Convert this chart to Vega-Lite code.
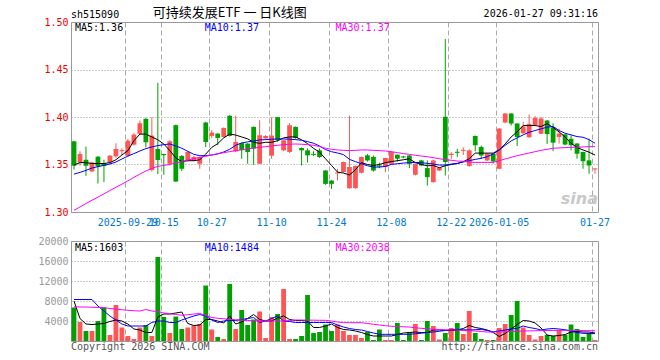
{
"$schema": "https://vega.github.io/schema/vega-lite/v6.json",
"background": "white",
"padding": {"left": 37, "top": 6, "right": 10, "bottom": 5},
"bounds": "flush",
"spacing": 29,
"config": {"view": {"stroke": "#999999", "strokeWidth": 1}, "font": "DejaVu Sans Mono",
  "axisY": {"ticks": false, "tickSize": 0, "domain": false, "grid": true, "gridColor": "#999999", "gridDash": [1,2], "gridWidth": 1, "labelFont": "DejaVu Sans Mono", "labelFontSize": 10, "labelPadding": 3}},
"datasets": {"k": [
{"d":"2025-09-16","o":1.3744,"h":1.375,"l":1.3448,"c":1.3487,"v":6700,"m5":1.3495,"m10":1.3399,"m30":1.3018,"vm5":8000,"vm10":8300,"vm30":6850},
{"d":"2025-09-17","o":1.3522,"h":1.3639,"l":1.3487,"c":1.3611,"v":3800,"m5":1.352,"m10":1.3417,"m30":1.3053,"vm5":4500,"vm10":8300,"vm30":6800},
{"d":"2025-09-18","o":1.3551,"h":1.3688,"l":1.3381,"c":1.3487,"v":2000,"m5":1.352,"m10":1.3438,"m30":1.3089,"vm5":3400,"vm10":8300,"vm30":6800},
{"d":"2025-09-19","o":1.3427,"h":1.353,"l":1.342,"c":1.3522,"v":2000,"m5":1.351,"m10":1.3463,"m30":1.3124,"vm5":3300,"vm10":8300,"vm30":6750},
{"d":"2025-09-22","o":1.3582,"h":1.359,"l":1.33,"c":1.348,"v":4000,"m5":1.351,"m10":1.3477,"m30":1.3156,"vm5":3400,"vm10":7000,"vm30":6700},
{"d":"2025-09-23","o":1.3516,"h":1.3551,"l":1.3314,"c":1.3484,"v":6700,"m5":1.351,"m10":1.3491,"m30":1.3191,"vm5":3500,"vm10":6000,"vm30":6680},
{"d":"2025-09-24","o":1.3522,"h":1.36,"l":1.35,"c":1.3593,"v":1200,"m5":1.352,"m10":1.3505,"m30":1.3226,"vm5":3900,"vm10":5000,"vm30":6500},
{"d":"2025-09-25","o":1.3586,"h":1.3723,"l":1.357,"c":1.3663,"v":7200,"m5":1.355,"m10":1.3526,"m30":1.3261,"vm5":4200,"vm10":4200,"vm30":6400},
{"d":"2025-09-26","o":1.364,"h":1.367,"l":1.36,"c":1.3651,"v":2700,"m5":1.36,"m10":1.3558,"m30":1.3293,"vm5":4000,"vm10":3400,"vm30":6250},
{"d":"2025-09-29","o":1.3593,"h":1.377,"l":1.358,"c":1.3751,"v":1000,"m5":1.3646,"m10":1.3589,"m30":1.3328,"vm5":3400,"vm10":3000,"vm30":6150},
{"d":"2025-09-30","o":1.3709,"h":1.383,"l":1.37,"c":1.3815,"v":400,"m5":1.375,"m10":1.3614,"m30":1.3364,"vm5":2400,"vm10":3000,"vm30":6050},
{"d":"2025-10-09","o":1.3822,"h":1.3963,"l":1.381,"c":1.3934,"v":2700,"m5":1.382,"m10":1.3642,"m30":1.3399,"vm5":2200,"vm10":3000,"vm30":6000},
{"d":"2025-10-10","o":1.3981,"h":1.399,"l":1.3681,"c":1.3734,"v":3200,"m5":1.382,"m10":1.3667,"m30":1.3431,"vm5":1700,"vm10":3000,"vm30":6300},
{"d":"2025-10-13","o":1.3441,"h":1.3998,"l":1.3427,"c":1.3804,"v":1000,"m5":1.379,"m10":1.3685,"m30":1.3459,"vm5":1700,"vm10":3700,"vm30":6000},
{"d":"2025-10-14","o":1.3663,"h":1.436,"l":1.3399,"c":1.3547,"v":16800,"m5":1.376,"m10":1.3699,"m30":1.348,"vm5":4800,"vm10":4000,"vm30":5900},
{"d":"2025-10-15","o":1.361,"h":1.3615,"l":1.3392,"c":1.3599,"v":4800,"m5":1.3716,"m10":1.3709,"m30":1.3491,"vm5":5400,"vm10":4000,"vm30":5600},
{"d":"2025-10-16","o":1.3508,"h":1.3755,"l":1.349,"c":1.3744,"v":1600,"m5":1.3646,"m10":1.3716,"m30":1.3501,"vm5":5400,"vm10":3700,"vm30":5450},
{"d":"2025-10-17","o":1.3914,"h":1.392,"l":1.3315,"c":1.3321,"v":4900,"m5":1.357,"m10":1.3695,"m30":1.3515,"vm5":5600,"vm10":3700,"vm30":5300},
{"d":"2025-10-20","o":1.359,"h":1.36,"l":1.343,"c":1.3455,"v":2400,"m5":1.353,"m10":1.3671,"m30":1.353,"vm5":5800,"vm10":4200,"vm30":5150},
{"d":"2025-10-21","o":1.3543,"h":1.364,"l":1.353,"c":1.3632,"v":2700,"m5":1.354,"m10":1.3639,"m30":1.3547,"vm5":3500,"vm10":4600,"vm30":5250},
{"d":"2025-10-22","o":1.3543,"h":1.359,"l":1.3535,"c":1.3579,"v":3100,"m5":1.354,"m10":1.3607,"m30":1.3561,"vm5":3100,"vm10":5000,"vm30":5400},
{"d":"2025-10-23","o":1.3508,"h":1.3585,"l":1.3455,"c":1.3579,"v":3400,"m5":1.355,"m10":1.3593,"m30":1.3575,"vm5":3200,"vm10":5300,"vm30":5500},
{"d":"2025-10-24","o":1.3942,"h":1.395,"l":1.3684,"c":1.3737,"v":11100,"m5":1.361,"m10":1.3593,"m30":1.3586,"vm5":4300,"vm10":5000,"vm30":5100},
{"d":"2025-10-27","o":1.3801,"h":1.3861,"l":1.378,"c":1.3836,"v":2300,"m5":1.368,"m10":1.36,"m30":1.36,"vm5":4300,"vm10":4200,"vm30":4700},
{"d":"2025-10-28","o":1.3825,"h":1.383,"l":1.3702,"c":1.378,"v":800,"m5":1.372,"m10":1.3611,"m30":1.3614,"vm5":4000,"vm10":3700,"vm30":4550},
{"d":"2025-10-29","o":1.379,"h":1.389,"l":1.3785,"c":1.3885,"v":400,"m5":1.378,"m10":1.3632,"m30":1.3625,"vm5":3600,"vm10":4000,"vm30":4450},
{"d":"2025-10-30","o":1.4013,"h":1.402,"l":1.3795,"c":1.3801,"v":11400,"m5":1.382,"m10":1.366,"m30":1.3635,"vm5":5000,"vm10":4100,"vm30":4350},
{"d":"2025-10-31","o":1.3638,"h":1.4013,"l":1.363,"c":1.3737,"v":2400,"m5":1.381,"m10":1.3702,"m30":1.3646,"vm5":3400,"vm10":4100,"vm30":4250},
{"d":"2025-11-03","o":1.3725,"h":1.373,"l":1.356,"c":1.365,"v":6200,"m5":1.379,"m10":1.3727,"m30":1.3656,"vm5":3800,"vm10":4300,"vm30":4200},
{"d":"2025-11-04","o":1.372,"h":1.3725,"l":1.3508,"c":1.3632,"v":3200,"m5":1.377,"m10":1.3738,"m30":1.3663,"vm5":4500,"vm10":4500,"vm30":4100},
{"d":"2025-11-05","o":1.3896,"h":1.39,"l":1.3497,"c":1.3667,"v":4300,"m5":1.3734,"m10":1.3748,"m30":1.3674,"vm5":5300,"vm10":4700,"vm30":4050},
{"d":"2025-11-06","o":1.3508,"h":1.3966,"l":1.3505,"c":1.3808,"v":5900,"m5":1.3723,"m10":1.3759,"m30":1.3681,"vm5":4300,"vm10":3700,"vm30":4000},
{"d":"2025-11-07","o":1.3775,"h":1.381,"l":1.3765,"c":1.38,"v":600,"m5":1.3734,"m10":1.3762,"m30":1.3688,"vm5":4000,"vm10":4000,"vm30":4000},
{"d":"2025-11-10","o":1.3593,"h":1.3998,"l":1.356,"c":1.3804,"v":4800,"m5":1.3734,"m10":1.3766,"m30":1.3695,"vm5":4000,"vm10":4500,"vm30":4000},
{"d":"2025-11-11","o":1.3998,"h":1.4,"l":1.374,"c":1.3759,"v":5400,"m5":1.375,"m10":1.3769,"m30":1.3702,"vm5":4600,"vm10":5000,"vm30":4000},
{"d":"2025-11-12","o":1.3649,"h":1.376,"l":1.364,"c":1.3755,"v":10400,"m5":1.378,"m10":1.3769,"m30":1.3709,"vm5":5000,"vm10":4000,"vm30":4000},
{"d":"2025-11-13","o":1.3632,"h":1.3935,"l":1.362,"c":1.3913,"v":400,"m5":1.379,"m10":1.3766,"m30":1.3713,"vm5":4300,"vm10":3900,"vm30":4100},
{"d":"2025-11-14","o":1.3896,"h":1.39,"l":1.377,"c":1.378,"v":400,"m5":1.379,"m10":1.3762,"m30":1.3716,"vm5":4100,"vm10":3700,"vm30":4200},
{"d":"2025-11-17","o":1.3674,"h":1.368,"l":1.349,"c":1.3649,"v":1000,"m5":1.376,"m10":1.3755,"m30":1.3713,"vm5":4100,"vm10":3700,"vm30":4200},
{"d":"2025-11-18","o":1.3649,"h":1.367,"l":1.352,"c":1.3596,"v":9200,"m5":1.372,"m10":1.3741,"m30":1.3709,"vm5":4000,"vm10":3700,"vm30":4180},
{"d":"2025-11-19","o":1.3612,"h":1.364,"l":1.359,"c":1.3601,"v":1600,"m5":1.367,"m10":1.3724,"m30":1.3702,"vm5":2700,"vm10":3700,"vm30":4160},
{"d":"2025-11-20","o":1.3649,"h":1.367,"l":1.357,"c":1.3579,"v":1800,"m5":1.363,"m10":1.3695,"m30":1.3688,"vm5":2700,"vm10":3700,"vm30":4140},
{"d":"2025-11-21","o":1.3437,"h":1.344,"l":1.3286,"c":1.3296,"v":3300,"m5":1.356,"m10":1.3657,"m30":1.3671,"vm5":3000,"vm10":3700,"vm30":4130},
{"d":"2025-11-24","o":1.3331,"h":1.3335,"l":1.3243,"c":1.3296,"v":2000,"m5":1.349,"m10":1.3635,"m30":1.366,"vm5":3400,"vm10":3700,"vm30":4000},
{"d":"2025-11-25","o":1.3405,"h":1.3455,"l":1.3331,"c":1.3416,"v":3300,"m5":1.342,"m10":1.3621,"m30":1.3653,"vm5":2700,"vm10":3200,"vm30":3800},
{"d":"2025-11-26","o":1.342,"h":1.353,"l":1.3415,"c":1.3526,"v":2000,"m5":1.341,"m10":1.3604,"m30":1.3649,"vm5":2300,"vm10":2800,"vm30":3667},
{"d":"2025-11-27","o":1.3251,"h":1.4013,"l":1.3245,"c":1.3473,"v":1200,"m5":1.339,"m10":1.3554,"m30":1.3646,"vm5":2200,"vm10":2500,"vm30":3667},
{"d":"2025-11-28","o":1.3251,"h":1.349,"l":1.3245,"c":1.3484,"v":1200,"m5":1.3445,"m10":1.353,"m30":1.3649,"vm5":2000,"vm10":2300,"vm30":3667},
{"d":"2025-12-01","o":1.3413,"h":1.3585,"l":1.3405,"c":1.3579,"v":600,"m5":1.352,"m10":1.3508,"m30":1.3653,"vm5":1700,"vm10":2200,"vm30":3667},
{"d":"2025-12-02","o":1.3596,"h":1.361,"l":1.353,"c":1.3543,"v":1800,"m5":1.35,"m10":1.3487,"m30":1.3653,"vm5":1300,"vm10":1900,"vm30":3500},
{"d":"2025-12-03","o":1.3579,"h":1.3595,"l":1.3425,"c":1.3437,"v":200,"m5":1.349,"m10":1.3473,"m30":1.3649,"vm5":1000,"vm10":1600,"vm30":3350},
{"d":"2025-12-04","o":1.349,"h":1.352,"l":1.346,"c":1.3479,"v":2300,"m5":1.35,"m10":1.3473,"m30":1.3646,"vm5":1000,"vm10":1350,"vm30":3200},
{"d":"2025-12-05","o":1.3473,"h":1.357,"l":1.342,"c":1.3568,"v":200,"m5":1.352,"m10":1.348,"m30":1.3642,"vm5":1000,"vm10":1333,"vm30":3050},
{"d":"2025-12-08","o":1.3508,"h":1.364,"l":1.35,"c":1.3632,"v":200,"m5":1.353,"m10":1.3501,"m30":1.3635,"vm5":1000,"vm10":1333,"vm30":2950},
{"d":"2025-12-09","o":1.3603,"h":1.3605,"l":1.353,"c":1.3561,"v":3600,"m5":1.354,"m10":1.3508,"m30":1.3625,"vm5":1300,"vm10":1333,"vm30":2900},
{"d":"2025-12-10","o":1.3585,"h":1.359,"l":1.3565,"c":1.3574,"v":200,"m5":1.355,"m10":1.3515,"m30":1.3614,"vm5":1600,"vm10":1333,"vm30":2850},
{"d":"2025-12-11","o":1.3596,"h":1.36,"l":1.3462,"c":1.3508,"v":1800,"m5":1.356,"m10":1.3519,"m30":1.3607,"vm5":1700,"vm10":1333,"vm30":2800},
{"d":"2025-12-12","o":1.3392,"h":1.351,"l":1.3385,"c":1.3508,"v":3400,"m5":1.352,"m10":1.3522,"m30":1.3597,"vm5":1800,"vm10":1450,"vm30":2650},
{"d":"2025-12-15","o":1.3543,"h":1.355,"l":1.3485,"c":1.349,"v":200,"m5":1.35,"m10":1.3519,"m30":1.3589,"vm5":1700,"vm10":1550,"vm30":2533},
{"d":"2025-12-16","o":1.3462,"h":1.3543,"l":1.3278,"c":1.3367,"v":4000,"m5":1.3487,"m10":1.3512,"m30":1.3582,"vm5":1700,"vm10":1700,"vm30":2450},
{"d":"2025-12-17","o":1.3314,"h":1.355,"l":1.331,"c":1.3543,"v":3000,"m5":1.349,"m10":1.3505,"m30":1.3572,"vm5":2200,"vm10":1800,"vm30":2350},
{"d":"2025-12-18","o":1.3437,"h":1.347,"l":1.343,"c":1.3462,"v":300,"m5":1.3466,"m10":1.3494,"m30":1.3561,"vm5":2200,"vm10":1950,"vm30":2300},
{"d":"2025-12-19","o":1.4002,"h":1.482,"l":1.3384,"c":1.3526,"v":1600,"m5":1.3487,"m10":1.3494,"m30":1.3551,"vm5":2100,"vm10":2100,"vm30":2250},
{"d":"2025-12-22","o":1.36,"h":1.363,"l":1.356,"c":1.3614,"v":2600,"m5":1.35,"m10":1.3505,"m30":1.3544,"vm5":2100,"vm10":2250,"vm30":2200},
{"d":"2025-12-23","o":1.3634,"h":1.3665,"l":1.358,"c":1.3623,"v":3600,"m5":1.351,"m10":1.3512,"m30":1.3537,"vm5":2200,"vm10":2333,"vm30":2200},
{"d":"2025-12-24","o":1.3643,"h":1.368,"l":1.36,"c":1.3654,"v":1400,"m5":1.353,"m10":1.3526,"m30":1.3533,"vm5":2500,"vm10":2250,"vm30":2100},
{"d":"2025-12-25","o":1.3484,"h":1.366,"l":1.3475,"c":1.3649,"v":6000,"m5":1.356,"m10":1.354,"m30":1.3526,"vm5":3100,"vm10":2200,"vm30":2050},
{"d":"2025-12-26","o":1.3801,"h":1.3805,"l":1.3638,"c":1.3702,"v":1600,"m5":1.362,"m10":1.3554,"m30":1.3522,"vm5":2700,"vm10":2250,"vm30":2000},
{"d":"2025-12-29","o":1.3685,"h":1.37,"l":1.356,"c":1.3596,"v":400,"m5":1.362,"m10":1.3565,"m30":1.3522,"vm5":2500,"vm10":2333,"vm30":1900},
{"d":"2025-12-30","o":1.3543,"h":1.362,"l":1.3535,"c":1.3614,"v":200,"m5":1.362,"m10":1.3582,"m30":1.3522,"vm5":2200,"vm10":2100,"vm30":1800},
{"d":"2025-12-31","o":1.3614,"h":1.362,"l":1.351,"c":1.3532,"v":200,"m5":1.362,"m10":1.3611,"m30":1.3522,"vm5":1700,"vm10":1850,"vm30":1800},
{"d":"2026-01-05","o":1.3455,"h":1.3885,"l":1.345,"c":1.3878,"v":2600,"m5":1.3653,"m10":1.3653,"m30":1.354,"vm5":900,"vm10":2000,"vm30":1800},
{"d":"2026-01-06","o":1.3942,"h":1.404,"l":1.3935,"c":1.4037,"v":3400,"m5":1.3716,"m10":1.3702,"m30":1.3558,"vm5":1500,"vm10":2200,"vm30":1850},
{"d":"2026-01-07","o":1.4037,"h":1.404,"l":1.391,"c":1.3931,"v":5200,"m5":1.379,"m10":1.3748,"m30":1.3575,"vm5":2400,"vm10":2400,"vm30":1900},
{"d":"2026-01-08","o":1.3931,"h":1.3935,"l":1.3695,"c":1.379,"v":8000,"m5":1.3843,"m10":1.378,"m30":1.3593,"vm5":3300,"vm10":2533,"vm30":1950},
{"d":"2026-01-09","o":1.383,"h":1.395,"l":1.382,"c":1.39,"v":2700,"m5":1.391,"m10":1.3812,"m30":1.3607,"vm5":4100,"vm10":3000,"vm30":2000},
{"d":"2026-01-12","o":1.3787,"h":1.4026,"l":1.378,"c":1.3928,"v":1200,"m5":1.391,"m10":1.384,"m30":1.3621,"vm5":4000,"vm10":2700,"vm30":2020},
{"d":"2026-01-13","o":1.3914,"h":1.401,"l":1.3905,"c":1.399,"v":300,"m5":1.391,"m10":1.3858,"m30":1.3635,"vm5":3600,"vm10":2500,"vm30":2050},
{"d":"2026-01-14","o":1.3825,"h":1.4,"l":1.382,"c":1.3984,"v":1000,"m5":1.39,"m10":1.3875,"m30":1.3649,"vm5":2600,"vm10":2200,"vm30":2070},
{"d":"2026-01-15","o":1.3963,"h":1.397,"l":1.3716,"c":1.3822,"v":1200,"m5":1.393,"m10":1.3893,"m30":1.366,"vm5":1200,"vm10":2400,"vm30":2100},
{"d":"2026-01-16","o":1.389,"h":1.3934,"l":1.364,"c":1.373,"v":1000,"m5":1.389,"m10":1.39,"m30":1.3671,"vm5":1000,"vm10":2500,"vm30":2120},
{"d":"2026-01-19","o":1.379,"h":1.3878,"l":1.372,"c":1.3825,"v":2200,"m5":1.3843,"m10":1.3858,"m30":1.3674,"vm5":1100,"vm10":2400,"vm30":2133},
{"d":"2026-01-20","o":1.3817,"h":1.382,"l":1.37,"c":1.371,"v":1200,"m5":1.379,"m10":1.3829,"m30":1.3678,"vm5":1300,"vm10":2250,"vm30":2133},
{"d":"2026-01-21","o":1.3772,"h":1.3808,"l":1.3649,"c":1.3702,"v":3300,"m5":1.3723,"m10":1.3812,"m30":1.3681,"vm5":1800,"vm10":2000,"vm30":2120},
{"d":"2026-01-22","o":1.372,"h":1.3725,"l":1.3561,"c":1.3614,"v":2400,"m5":1.368,"m10":1.3794,"m30":1.3681,"vm5":1900,"vm10":1700,"vm30":2100},
{"d":"2026-01-23","o":1.3632,"h":1.3635,"l":1.3455,"c":1.3533,"v":800,"m5":1.3653,"m10":1.3787,"m30":1.3685,"vm5":1800,"vm10":1533,"vm30":2080},
{"d":"2026-01-26","o":1.3543,"h":1.3772,"l":1.3402,"c":1.349,"v":1600,"m5":1.363,"m10":1.3762,"m30":1.3688,"vm5":1800,"vm10":1500,"vm30":2060},
{"d":"2026-01-27","o":1.3448,"h":1.346,"l":1.3402,"c":1.3459,"v":200,"m5":1.36,"m10":1.3724,"m30":1.3688,"vm5":1603,"vm10":1484,"vm30":2038}
]},
"vconcat": [
{
"width": 527, "height": 190,
"data": {"name": "k"},
"encoding": {"x": {"field": "d", "type": "ordinal", "scale": {"type": "band", "paddingInner": 0.2, "paddingOuter": 0.1},
  "axis": {"values": ["2025-09-29","2025-10-15","2025-10-27","2025-11-10","2025-11-24","2025-12-08","2025-12-22","2026-01-05","2026-01-27"],
   "bandPosition": 0, "labelExpr": "(datum.value == '2025-09-29' || datum.value == '2026-01-05') ? datum.value : slice(datum.value, 5)",
   "title": null, "ticks": false, "tickSize": 0, "domain": false, "grid": true, "gridColor": "#aaaaaa", "gridDash": [5,3], "gridWidth": 1,
   "labelColor": "#0078d2", "labelFont": "DejaVu Sans Mono", "labelFontSize": 10, "labelAngle": 0, "labelPadding": 13, "labelBaseline": "alphabetic",
   "labelOverlap": false, "labelFlush": false, "labelBound": false}}},
"layer": [
 {"data": {"values": [{}]}, "mark": {"type": "text", "align": "right", "baseline": "alphabetic", "dx": 3, "dy": -8, "font": "DejaVu Sans", "fontSize": 16, "fontWeight": "bold", "fontStyle": "italic", "color": "#c8c8c8"},
  "encoding": {"x": {"datum": "2026-01-27", "type": "ordinal"}, "y": {"datum": 1.3, "type": "quantitative", "title": null, "scale": {"domain": [1.3,1.5], "nice": false, "zero": false}, "axis": {"values": [1.3,1.35,1.4,1.45,1.5], "format": ".2f", "labelColor": "#ee0000"}}, "text": {"value": "sina"}}},
 {"mark": {"type": "rule", "strokeWidth": 1},
  "encoding": {"y": {"field": "l", "type": "quantitative", "title": null, "scale": {"domain": [1.3,1.5], "nice": false, "zero": false}, "axis": {"values": [1.3,1.35,1.4,1.45,1.5], "format": ".2f", "labelColor": "#ee0000"}},
   "y2": {"field": "h"},
   "color": {"condition": {"test": "datum.c >= datum.o", "value": "#ff5555"}, "value": "#00a000"}}},
 {"mark": {"type": "bar"},
  "encoding": {"y": {"field": "o", "type": "quantitative", "title": null, "scale": {"domain": [1.3,1.5], "nice": false, "zero": false}, "axis": {"values": [1.3,1.35,1.4,1.45,1.5], "format": ".2f", "labelColor": "#ee0000"}},
   "y2": {"field": "c"},
   "color": {"condition": {"test": "datum.c >= datum.o", "value": "#ff5555"}, "value": "#00a000"}}},
 {"mark": {"type": "line", "strokeWidth": 1, "color": "#000000"},
  "encoding": {"y": {"field": "m5", "type": "quantitative", "title": null, "scale": {"domain": [1.3,1.5], "nice": false, "zero": false}, "axis": {"values": [1.3,1.35,1.4,1.45,1.5], "format": ".2f", "labelColor": "#ee0000"}}}},
 {"mark": {"type": "line", "strokeWidth": 1, "color": "#0000ff"},
  "encoding": {"y": {"field": "m10", "type": "quantitative", "title": null, "scale": {"domain": [1.3,1.5], "nice": false, "zero": false}, "axis": {"values": [1.3,1.35,1.4,1.45,1.5], "format": ".2f", "labelColor": "#ee0000"}}}},
 {"mark": {"type": "line", "strokeWidth": 1, "color": "#ff00ff"},
  "encoding": {"y": {"field": "m30", "type": "quantitative", "title": null, "scale": {"domain": [1.3,1.5], "nice": false, "zero": false}, "axis": {"values": [1.3,1.35,1.4,1.45,1.5], "format": ".2f", "labelColor": "#ee0000"}}}},
 {"data": {"values": [{}]}, "mark": {"type": "text", "align": "left", "baseline": "alphabetic", "dx": 1, "dy": 9, "font": "DejaVu Sans Mono", "fontSize": 10, "color": "#000000"},
  "encoding": {"x": {"datum": "2025-09-16", "type": "ordinal"}, "y": {"datum": 1.5, "type": "quantitative", "title": null, "scale": {"domain": [1.3,1.5], "nice": false, "zero": false}, "axis": {"values": [1.3,1.35,1.4,1.45,1.5], "format": ".2f", "labelColor": "#ee0000"}}, "text": {"value": "MA5:1.36"}}},
 {"data": {"values": [{}]}, "mark": {"type": "text", "align": "left", "baseline": "alphabetic", "dx": -1, "dy": 9, "font": "DejaVu Sans Mono", "fontSize": 10, "color": "#0000ff"},
  "encoding": {"x": {"datum": "2025-10-24", "type": "ordinal"}, "y": {"datum": 1.5, "type": "quantitative", "title": null, "scale": {"domain": [1.3,1.5], "nice": false, "zero": false}, "axis": {"values": [1.3,1.35,1.4,1.45,1.5], "format": ".2f", "labelColor": "#ee0000"}}, "text": {"value": "MA10:1.37"}}},
 {"data": {"values": [{}]}, "mark": {"type": "text", "align": "left", "baseline": "alphabetic", "dx": -2, "dy": 9, "font": "DejaVu Sans Mono", "fontSize": 10, "color": "#ff00ff"},
  "encoding": {"x": {"datum": "2025-11-25", "type": "ordinal"}, "y": {"datum": 1.5, "type": "quantitative", "title": null, "scale": {"domain": [1.3,1.5], "nice": false, "zero": false}, "axis": {"values": [1.3,1.35,1.4,1.45,1.5], "format": ".2f", "labelColor": "#ee0000"}}, "text": {"value": "MA30:1.37"}}},
 {"data": {"values": [{}]}, "mark": {"type": "text", "align": "left", "baseline": "alphabetic", "dx": -3, "dy": -4, "font": "DejaVu Sans Mono", "fontSize": 10, "color": "#000000"},
  "encoding": {"x": {"datum": "2025-09-16", "type": "ordinal"}, "y": {"datum": 1.5, "type": "quantitative", "title": null, "scale": {"domain": [1.3,1.5], "nice": false, "zero": false}, "axis": {"values": [1.3,1.35,1.4,1.45,1.5], "format": ".2f", "labelColor": "#ee0000"}}, "text": {"value": "sh515090"}}},
 {"data": {"values": [{}]}, "mark": {"type": "text", "align": "left", "baseline": "alphabetic", "dx": 1, "dy": -5, "font": "Noto Sans CJK SC", "fontSize": 13, "color": "#000000"},
  "encoding": {"x": {"datum": "2025-10-13", "type": "ordinal"}, "y": {"datum": 1.5, "type": "quantitative", "title": null, "scale": {"domain": [1.3,1.5], "nice": false, "zero": false}, "axis": {"values": [1.3,1.35,1.4,1.45,1.5], "format": ".2f", "labelColor": "#ee0000"}}, "text": {"value": "可持续发展ETF 一 日K线图"}}},
 {"data": {"values": [{}]}, "mark": {"type": "text", "align": "right", "baseline": "alphabetic", "dx": 3, "dy": -5, "font": "DejaVu Sans Mono", "fontSize": 10, "color": "#000000"},
  "encoding": {"x": {"datum": "2026-01-27", "type": "ordinal"}, "y": {"datum": 1.5, "type": "quantitative", "title": null, "scale": {"domain": [1.3,1.5], "nice": false, "zero": false}, "axis": {"values": [1.3,1.35,1.4,1.45,1.5], "format": ".2f", "labelColor": "#ee0000"}}, "text": {"value": "2026-01-27 09:31:16"}}}
]
},
{
"width": 527, "height": 100,
"data": {"name": "k"},
"encoding": {"x": {"field": "d", "type": "ordinal", "scale": {"type": "band", "paddingInner": 0.2, "paddingOuter": 0.1},
  "axis": {"values": ["2025-09-29","2025-10-15","2025-10-27","2025-11-10","2025-11-24","2025-12-08","2025-12-22","2026-01-05","2026-01-27"],
   "bandPosition": 0, "labels": false, "title": null, "ticks": false, "tickSize": 0, "domain": false, "grid": true, "gridColor": "#aaaaaa", "gridDash": [5,3], "gridWidth": 1}}},
"layer": [
 {"mark": {"type": "bar"},
  "encoding": {"y": {"field": "v", "type": "quantitative", "title": null, "scale": {"domain": [0,20000], "nice": false}, "axis": {"values": [4000,8000,12000,16000,20000], "format": "d", "labelColor": "#999999"}},
   "color": {"condition": {"test": "datum.c >= datum.o", "value": "#ff5555"}, "value": "#00a000"}}},
 {"mark": {"type": "line", "strokeWidth": 1, "color": "#000000"},
  "encoding": {"y": {"field": "vm5", "type": "quantitative", "title": null, "scale": {"domain": [0,20000], "nice": false}, "axis": {"values": [4000,8000,12000,16000,20000], "format": "d", "labelColor": "#999999"}}}},
 {"mark": {"type": "line", "strokeWidth": 1, "color": "#0000ff"},
  "encoding": {"y": {"field": "vm10", "type": "quantitative", "title": null, "scale": {"domain": [0,20000], "nice": false}, "axis": {"values": [4000,8000,12000,16000,20000], "format": "d", "labelColor": "#999999"}}}},
 {"mark": {"type": "line", "strokeWidth": 1, "color": "#ff00ff"},
  "encoding": {"y": {"field": "vm30", "type": "quantitative", "title": null, "scale": {"domain": [0,20000], "nice": false}, "axis": {"values": [4000,8000,12000,16000,20000], "format": "d", "labelColor": "#999999"}}}},
 {"data": {"values": [{}]}, "mark": {"type": "text", "align": "left", "baseline": "alphabetic", "dx": 1, "dy": 10, "font": "DejaVu Sans Mono", "fontSize": 10, "color": "#000000"},
  "encoding": {"x": {"datum": "2025-09-16", "type": "ordinal"}, "y": {"datum": 20000, "type": "quantitative", "title": null, "scale": {"domain": [0,20000], "nice": false}, "axis": {"values": [4000,8000,12000,16000,20000], "format": "d", "labelColor": "#999999"}}, "text": {"value": "MA5:1603"}}},
 {"data": {"values": [{}]}, "mark": {"type": "text", "align": "left", "baseline": "alphabetic", "dx": -1, "dy": 10, "font": "DejaVu Sans Mono", "fontSize": 10, "color": "#0000ff"},
  "encoding": {"x": {"datum": "2025-10-24", "type": "ordinal"}, "y": {"datum": 20000, "type": "quantitative", "title": null, "scale": {"domain": [0,20000], "nice": false}, "axis": {"values": [4000,8000,12000,16000,20000], "format": "d", "labelColor": "#999999"}}, "text": {"value": "MA10:1484"}}},
 {"data": {"values": [{}]}, "mark": {"type": "text", "align": "left", "baseline": "alphabetic", "dx": -2, "dy": 10, "font": "DejaVu Sans Mono", "fontSize": 10, "color": "#ff00ff"},
  "encoding": {"x": {"datum": "2025-11-25", "type": "ordinal"}, "y": {"datum": 20000, "type": "quantitative", "title": null, "scale": {"domain": [0,20000], "nice": false}, "axis": {"values": [4000,8000,12000,16000,20000], "format": "d", "labelColor": "#999999"}}, "text": {"value": "MA30:2038"}}},
 {"data": {"values": [{}]}, "mark": {"type": "text", "align": "left", "baseline": "alphabetic", "dx": -3, "dy": 9, "font": "DejaVu Sans Mono", "fontSize": 10, "color": "#555555"},
  "encoding": {"x": {"datum": "2025-09-16", "type": "ordinal"}, "y": {"datum": 0, "type": "quantitative", "title": null, "scale": {"domain": [0,20000], "nice": false}, "axis": {"values": [4000,8000,12000,16000,20000], "format": "d", "labelColor": "#999999"}}, "text": {"value": "Copyright 2026 SINA.COM"}}},
 {"data": {"values": [{}]}, "mark": {"type": "text", "align": "right", "baseline": "alphabetic", "dx": 3, "dy": 9, "font": "DejaVu Sans Mono", "fontSize": 10, "color": "#555555"},
  "encoding": {"x": {"datum": "2026-01-27", "type": "ordinal"}, "y": {"datum": 0, "type": "quantitative", "title": null, "scale": {"domain": [0,20000], "nice": false}, "axis": {"values": [4000,8000,12000,16000,20000], "format": "d", "labelColor": "#999999"}}, "text": {"value": "http://finance.sina.com.cn"}}}
]
}
]
}
